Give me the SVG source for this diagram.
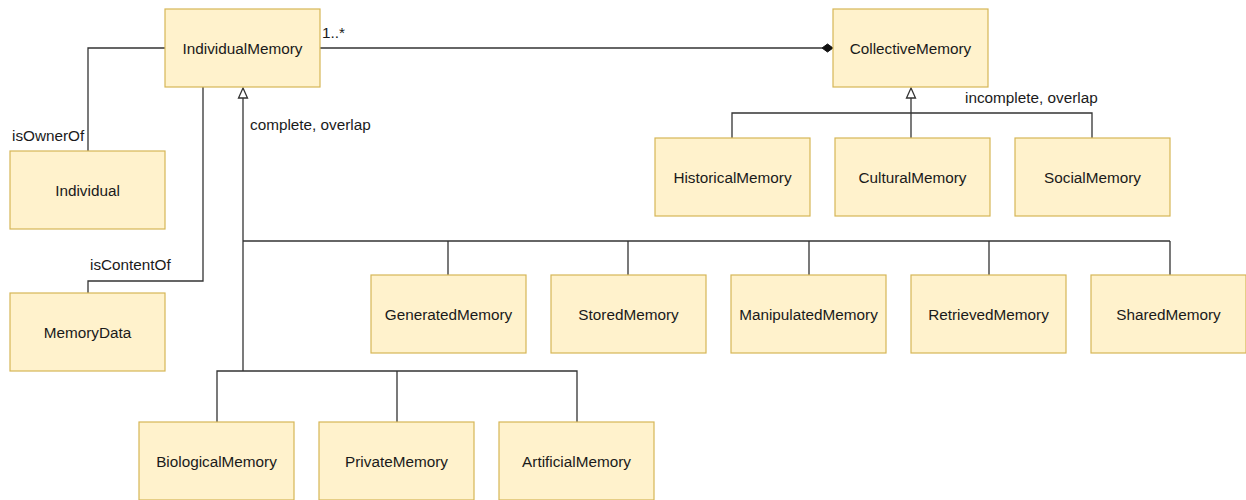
<svg xmlns="http://www.w3.org/2000/svg" width="1246" height="500" viewBox="0 0 1246 500">
<style>
.box{fill:#fff2cc;stroke:#d6b656;stroke-width:1.2}
.t{font-family:"Liberation Sans",Arial,sans-serif;font-size:15.3px;fill:#1a1a1a;text-anchor:middle;dominant-baseline:central}
.l{font-family:"Liberation Sans",Arial,sans-serif;font-size:15.3px;fill:#1a1a1a}
.c{fill:none;stroke:#333;stroke-width:1.3}
.tri{fill:#fff;stroke:#333;stroke-width:1.3}
</style>
<rect width="1246" height="500" fill="#fff"/>
<g id="connectors">
<path class="c" d="M165,48 H88 V151"/>
<path class="c" d="M203,87 V281 H88 V293"/>
<path class="c" d="M320,48 H822"/>
<path d="M822,48 L827.5,44 L833,48 L827.5,52 Z" fill="#111" stroke="#111" stroke-width="1"/>
<path class="c" d="M243,98 V371"/>
<path class="tri" d="M243,88 L247.5,98 L238.5,98 Z"/>
<path class="c" d="M243,241 H1170"/>
<path class="c" d="M448,241 V275 M628,241 V275 M809,241 V275 M989,241 V275 M1170,241 V275"/>
<path class="c" d="M217,422 V371 H577 V422 M397,371 V422"/>
<path class="c" d="M911,98 V138"/>
<path class="tri" d="M911,88 L915.5,98 L906.5,98 Z"/>
<path class="c" d="M732,138 V113 H1092 V138"/>
<text class="l" x="322" y="38">1..*</text>
<text class="l" x="12" y="141">isOwnerOf</text>
<text class="l" x="90" y="270">isContentOf</text>
<text class="l" x="250" y="130">complete, overlap</text>
<text class="l" x="965" y="103">incomplete, overlap</text>
</g>
<g id="IndividualMemory"><rect class="box" x="165" y="9" width="155" height="78"/><text class="t" x="242.5" y="48">IndividualMemory</text></g>
<g id="CollectiveMemory"><rect class="box" x="833" y="9" width="155" height="78"/><text class="t" x="910.5" y="48">CollectiveMemory</text></g>
<g id="Individual"><rect class="box" x="10" y="151" width="155" height="78"/><text class="t" x="87.5" y="190">Individual</text></g>
<g id="MemoryData"><rect class="box" x="10" y="293" width="155" height="78"/><text class="t" x="87.5" y="332">MemoryData</text></g>
<g id="HistoricalMemory"><rect class="box" x="655" y="138" width="155" height="78"/><text class="t" x="732.5" y="177">HistoricalMemory</text></g>
<g id="CulturalMemory"><rect class="box" x="835" y="138" width="155" height="78"/><text class="t" x="912.5" y="177">CulturalMemory</text></g>
<g id="SocialMemory"><rect class="box" x="1015" y="138" width="155" height="78"/><text class="t" x="1092.5" y="177">SocialMemory</text></g>
<g id="GeneratedMemory"><rect class="box" x="371" y="275" width="155" height="78"/><text class="t" x="448.5" y="314">GeneratedMemory</text></g>
<g id="StoredMemory"><rect class="box" x="551" y="275" width="155" height="78"/><text class="t" x="628.5" y="314">StoredMemory</text></g>
<g id="ManipulatedMemory"><rect class="box" x="731" y="275" width="155" height="78"/><text class="t" x="808.5" y="314">ManipulatedMemory</text></g>
<g id="RetrievedMemory"><rect class="box" x="911" y="275" width="155" height="78"/><text class="t" x="988.5" y="314">RetrievedMemory</text></g>
<g id="SharedMemory"><rect class="box" x="1091" y="275" width="155" height="78"/><text class="t" x="1168.5" y="314">SharedMemory</text></g>
<g id="BiologicalMemory"><rect class="box" x="139" y="422" width="155" height="78"/><text class="t" x="216.5" y="461">BiologicalMemory</text></g>
<g id="PrivateMemory"><rect class="box" x="319" y="422" width="155" height="78"/><text class="t" x="396.5" y="461">PrivateMemory</text></g>
<g id="ArtificialMemory"><rect class="box" x="499" y="422" width="155" height="78"/><text class="t" x="576.5" y="461">ArtificialMemory</text></g>
</svg>
